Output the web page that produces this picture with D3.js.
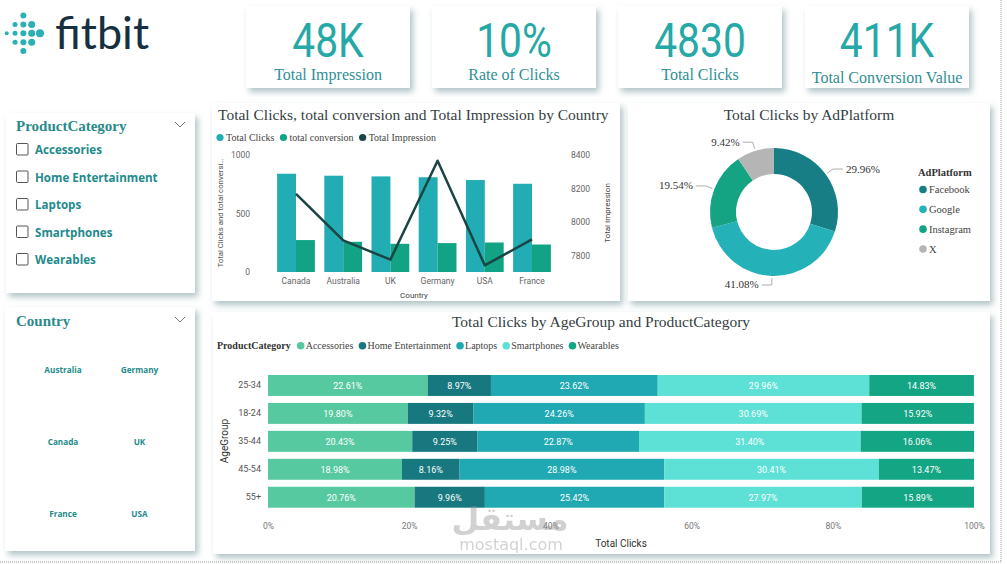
<!DOCTYPE html>
<html>
<head>
<meta charset="utf-8">
<title>fitbit ads dashboard</title>
<script src="https://cdn.jsdelivr.net/npm/d3@7"></script>
<style>
  body { margin: 0; background: #fff; }
</style>
</head>
<body>
<div id="dash"></div>
<script>
// ---- data ----
var kpiValues = ["48K", "10%", "4830", "411K"]
var kpiLabels = ["Total Impression", "Rate of Clicks", "Total Clicks", "Total Conversion Value"]

var productCategories = ["Accessories", "Home Entertainment", "Laptops", "Smartphones", "Wearables"]
var countrySlicer = ["Australia", "Germany", "Canada", "UK", "France", "USA"]

var countries = ["Canada", "Australia", "UK", "Germany", "USA", "France"]
var totalClicks = [840, 823, 817, 810, 786, 754]
var totalConversion = [273, 258, 241, 247, 252, 235]
var totalImpression = [8167, 7889, 7774, 8366, 7740, 7895]
var leftTicks = [0, 500, 1000]
var rightTicks = [7800, 8000, 8200, 8400]

var platforms = ["Facebook", "Google", "Instagram", "X"]
var platformShare = [29.96, 41.08, 19.54, 9.42]

var ageGroups = ["25-34", "18-24", "35-44", "45-54", "55+"]
var accessories = [22.61, 19.80, 20.43, 18.98, 20.76]
var homeEntertainment = [8.97, 9.32, 9.25, 8.16, 9.96]
var laptops = [23.62, 24.26, 22.87, 28.98, 25.42]
var smartphones = [29.96, 30.69, 31.40, 30.41, 27.97]
var wearables = [14.83, 15.92, 16.06, 13.47, 15.89]
var pctTicks = [0, 20, 40, 60, 80, 100]

// ---- look ----
var serif = "'Liberation Serif', 'DejaVu Serif', serif"
var sans = "Roboto, 'Open Sans', sans-serif"
var titleColor = "#34403f"
var tealText = "#238a8c"
var catColors = ["#57c9a0", "#17797f", "#20a8b3", "#5de0d5", "#14a585"]
var platColors = ["#177e86", "#24b1b8", "#14a483", "#b5b5b5"]
var clickColor = "#22adb5", convColor = "#12a384", imprColor = "#1b4444"

var svg = d3.select("#dash").append("svg")
    .attr("width", 1007)
    .attr("height", 564)

var filter = svg.append("defs").append("filter")
    .attr("id", "shadow").attr("x", "-10%").attr("y", "-10%").attr("width", "125%").attr("height", "130%")
filter.append("feDropShadow")
    .attr("dx", 3).attr("dy", 4).attr("stdDeviation", 3)
    .attr("flood-color", "#7f9ca2").attr("flood-opacity", 0.6)

function card(x, y, w, h) {
    svg.append("rect")
        .attr("x", x).attr("y", y).attr("width", w).attr("height", h)
        .attr("fill", "#fff")
        .attr("filter", "url(#shadow)")
}

// dotted page edge
svg.append("path")
    .attr("d", "M1001,0V562H0")
    .attr("fill", "none").attr("stroke", "#999").attr("stroke-width", 1)
    .attr("stroke-dasharray", "1,1")

// ---- logo ----
var logo = svg.append("g")
var dotRows = [1, 3, 5, 3, 1]
dotRows.forEach(function(n, r) {
    for (var k = 0; k < n; k++) {
        var col = 2 - (n - 1) / 2 + k
        logo.append("circle")
            .attr("cx", 6.7 + col * 8.33)
            .attr("cy", 15.5 + r * 8.9)
            .attr("r", 2 + col * 0.5)
            .attr("fill", "#2ab0b5")
    }
})
logo.append("text")
    .attr("x", 55).attr("y", 49)
    .attr("font-family", "Lato, sans-serif").attr("font-size", 45)
    .attr("fill", "#17303f")
    .text("fitbit")

// ---- KPI cards ----
var kpiX = [246, 432, 618, 805]
kpiValues.forEach(function(v, i) {
    card(kpiX[i], 6, 164, 82)
    var cxk = kpiX[i] + 82
    svg.append("text")
        .attr("transform", "translate(" + cxk + ",57) scale(0.85,1)")
        .attr("text-anchor", "middle")
        .attr("font-family", sans).attr("font-size", 48)
        .attr("fill", "#26a9a6")
        .text(v)
    svg.append("text")
        .attr("x", cxk).attr("y", i == 3 ? 83 : 80)
        .attr("text-anchor", "middle")
        .attr("font-family", serif).attr("font-size", 16)
        .attr("fill", "#2f8f93")
        .text(kpiLabels[i])
})

// ---- slicers ----
function chevron(x, y) {
    svg.append("path")
        .attr("d", "M" + (x - 5) + "," + (y - 3) + "L" + x + "," + (y + 2) + "L" + (x + 5) + "," + (y - 3))
        .attr("fill", "none").attr("stroke", "#777").attr("stroke-width", 1)
}

card(6, 113, 189, 180)
svg.append("text")
    .attr("x", 16).attr("y", 131)
    .attr("font-family", serif).attr("font-size", 15).attr("font-weight", "bold")
    .attr("fill", "#2a8a8a")
    .text("ProductCategory")
chevron(180, 125)
var slicerY = d3.scalePoint().domain(productCategories).range([149.5, 259.5])
productCategories.forEach(function(c) {
    svg.append("rect")
        .attr("x", 16.5).attr("y", slicerY(c) - 6).attr("width", 11.5).attr("height", 11.5)
        .attr("rx", 1).attr("fill", "#fff").attr("stroke", "#555").attr("stroke-width", 1)
    svg.append("text")
        .attr("x", 35).attr("y", slicerY(c) + 4.5)
        .attr("font-family", "'Open Sans', sans-serif").attr("font-size", 11.6).attr("font-weight", 700)
        .attr("fill", tealText)
        .text(c)
})

card(5, 307, 190, 244)
svg.append("text")
    .attr("x", 16).attr("y", 326)
    .attr("font-family", serif).attr("font-size", 15).attr("font-weight", "bold")
    .attr("fill", "#2a8a8a")
    .text("Country")
chevron(180, 320)
var tileCol = d3.scalePoint().domain([0, 1]).range([63, 139.5])
var tileRow = d3.scalePoint().domain([0, 1, 2]).range([370, 513.5])
countrySlicer.forEach(function(c, i) {
    svg.append("text")
        .attr("x", tileCol(i % 2)).attr("y", tileRow(Math.floor(i / 2)) + 3)
        .attr("text-anchor", "middle")
        .attr("font-family", "'Open Sans', sans-serif").attr("font-size", 8.2).attr("font-weight", 700)
        .attr("fill", tealText)
        .text(c)
})

// ---- combo chart: clicks / conversion / impression by country ----
card(212, 103, 408, 198)
svg.append("text")
    .attr("x", 218).attr("y", 120)
    .attr("font-family", serif).attr("font-size", 15.5)
    .attr("fill", titleColor)
    .text("Total Clicks, total conversion and Total Impression by Country")

var comboLegend = [["Total Clicks", clickColor], ["total conversion", convColor], ["Total Impression", imprColor]]
var lx = 220
comboLegend.forEach(function(d) {
    svg.append("circle").attr("cx", lx).attr("cy", 137.5).attr("r", 3.6).attr("fill", d[1])
    var t = svg.append("text")
        .attr("x", lx + 6).attr("y", 141)
        .attr("font-family", serif).attr("font-size", 10)
        .attr("fill", "#444")
        .text(d[0])
    lx += 6 + t.node().getComputedTextLength() + 9
})

var cx = d3.scaleBand().domain(countries).range([272.4, 555.6]).paddingInner(0.2).paddingOuter(0.1)
var cSub = d3.scaleBand().domain(["clicks", "conv"]).range([0, cx.bandwidth()])
var yL = d3.scaleLinear().domain([0, 1000]).range([272, 155])
var yR = d3.scaleLinear().domain([7700, 8400]).range([272, 155])

var combo = svg.append("g")
combo.selectAll(".clk").data(countries).join("rect")
    .attr("x", function(d) { return cx(d) + cSub("clicks") })
    .attr("y", function(d, i) { return yL(totalClicks[i]) })
    .attr("width", cSub.bandwidth())
    .attr("height", function(d, i) { return yL(0) - yL(totalClicks[i]) })
    .attr("fill", clickColor)
combo.selectAll(".conv").data(countries).join("rect")
    .attr("x", function(d) { return cx(d) + cSub("conv") })
    .attr("y", function(d, i) { return yL(totalConversion[i]) })
    .attr("width", cSub.bandwidth())
    .attr("height", function(d, i) { return yL(0) - yL(totalConversion[i]) })
    .attr("fill", convColor)
combo.append("path")
    .datum(totalImpression)
    .attr("fill", "none").attr("stroke", imprColor).attr("stroke-width", 2.5)
    .attr("stroke-linejoin", "round")
    .attr("d", d3.line()
        .x(function(d, i) { return cx(countries[i]) + cx.bandwidth() / 2 })
        .y(function(d) { return yR(d) }))

function styleAxis(a, size, color) {
    a.select(".domain").remove()
    a.selectAll("text").attr("font-family", sans).attr("font-size", size).attr("fill", color)
}
combo.append("g").attr("transform", "translate(253,0)")
    .call(d3.axisLeft(yL).tickValues(leftTicks).tickSize(0).tickPadding(3).tickFormat(d3.format("d")))
    .call(styleAxis, 8.5, "#666")
combo.append("g").attr("transform", "translate(568,0)")
    .call(d3.axisRight(yR).tickValues(rightTicks).tickSize(0).tickPadding(3).tickFormat(d3.format("d")))
    .call(styleAxis, 8.5, "#666")
combo.append("g").attr("transform", "translate(0,272)")
    .call(d3.axisBottom(cx).tickSize(0).tickPadding(6))
    .call(styleAxis, 8.5, "#666")
combo.append("text")
    .attr("x", 414).attr("y", 298).attr("text-anchor", "middle")
    .attr("font-family", sans).attr("font-size", 8).attr("fill", "#444")
    .text("Country")
combo.append("text")
    .attr("transform", "translate(223,213) rotate(-90)").attr("text-anchor", "middle")
    .attr("font-family", sans).attr("font-size", 7.8).attr("fill", "#555")
    .text("Total Clicks and total conversi\u2026")
combo.append("text")
    .attr("transform", "translate(610,213) rotate(-90)").attr("text-anchor", "middle")
    .attr("font-family", sans).attr("font-size", 8).attr("fill", "#444")
    .text("Total Impression")

// ---- donut: clicks by ad platform ----
card(628, 103, 362, 198)
svg.append("text")
    .attr("x", 809).attr("y", 120).attr("text-anchor", "middle")
    .attr("font-family", serif).attr("font-size", 15.5)
    .attr("fill", titleColor)
    .text("Total Clicks by AdPlatform")

var donut = svg.append("g").attr("transform", "translate(774,212)")
var pie = d3.pie().sort(null).value(function(d) { return d })
var arcs = pie(platformShare)
var arc = d3.arc().innerRadius(38).outerRadius(64)
donut.selectAll("path").data(arcs).join("path")
    .attr("d", arc)
    .attr("fill", function(d, i) { return platColors[i] })

arcs.forEach(function(a) {
    var m = (a.startAngle + a.endAngle) / 2
    var p1 = [Math.sin(m) * 66, -Math.cos(m) * 66]
    var p2 = [Math.sin(m) * 73, -Math.cos(m) * 73]
    var right = Math.sin(m) > 0
    var p3 = [p2[0] + (right ? 10 : -10), p2[1]]
    donut.append("polyline")
        .attr("points", [p1, p2, p3].join(" "))
        .attr("fill", "none").attr("stroke", "#999").attr("stroke-width", 0.8)
    donut.append("text")
        .attr("x", p3[0] + (right ? 3 : -3)).attr("y", p3[1] + 3.5)
        .attr("text-anchor", right ? "start" : "end")
        .attr("font-family", serif).attr("font-size", 11)
        .attr("fill", "#333")
        .text(d3.format(".2f")(a.data) + "%")
})

svg.append("text")
    .attr("x", 918).attr("y", 176)
    .attr("font-family", serif).attr("font-size", 10.5).attr("font-weight", "bold")
    .attr("fill", "#333")
    .text("AdPlatform")
var legY = d3.scalePoint().domain(platforms).range([189.5, 249])
platforms.forEach(function(p, i) {
    svg.append("circle").attr("cx", 923).attr("cy", legY(p)).attr("r", 3.8).attr("fill", platColors[i])
    svg.append("text")
        .attr("x", 929).attr("y", legY(p) + 3.5)
        .attr("font-family", serif).attr("font-size", 10.5)
        .attr("fill", "#444")
        .text(p)
})

// ---- stacked 100% bars: clicks by age group and category ----
card(213, 312, 777, 242)
svg.append("text")
    .attr("x", 601).attr("y", 327).attr("text-anchor", "middle")
    .attr("font-family", serif).attr("font-size", 15.5)
    .attr("fill", titleColor)
    .text("Total Clicks by AgeGroup and ProductCategory")

var lg = svg.append("text")
    .attr("x", 217).attr("y", 349)
    .attr("font-family", serif).attr("font-size", 10).attr("font-weight", "bold")
    .attr("fill", "#333")
    .text("ProductCategory")
var sx = 217 + lg.node().getComputedTextLength() + 10
productCategories.forEach(function(c, i) {
    svg.append("circle").attr("cx", sx).attr("cy", 345.7).attr("r", 3.8).attr("fill", catColors[i])
    var t = svg.append("text")
        .attr("x", sx + 5).attr("y", 349)
        .attr("font-family", serif).attr("font-size", 10)
        .attr("fill", "#444")
        .text(c)
    sx += 5 + t.node().getComputedTextLength() + 9
})

var seriesValues = [accessories, homeEntertainment, laptops, smartphones, wearables]
var rows = ageGroups.map(function(a, i) {
    var r = { age: a }
    productCategories.forEach(function(c, k) { r[c] = seriesValues[k][i] })
    return r
})
var stacked = d3.stack().keys(productCategories)(rows)

var xs = d3.scaleLinear().domain([0, 100]).range([268, 974])
var ys = d3.scaleBand().domain(ageGroups).range([371.5, 511.2]).paddingInner(0.25).paddingOuter(0.125)

var bars = svg.append("g")
stacked.forEach(function(layer, k) {
    var lgp = bars.append("g")
    lgp.selectAll("rect").data(layer).join("rect")
        .attr("x", function(d) { return xs(d[0]) })
        .attr("y", function(d) { return ys(d.data.age) })
        .attr("width", function(d) { return xs(d[1]) - xs(d[0]) })
        .attr("height", ys.bandwidth())
        .attr("fill", catColors[k])
    lgp.selectAll("text").data(layer).join("text")
        .attr("x", function(d) { return (xs(d[0]) + xs(d[1])) / 2 })
        .attr("y", function(d) { return ys(d.data.age) + ys.bandwidth() / 2 + 3.3 })
        .attr("text-anchor", "middle")
        .attr("font-family", sans).attr("font-size", 9)
        .attr("fill", "#fff")
        .text(function(d) { return d3.format(".2f")(d[1] - d[0]) + "%" })
})

bars.append("g").attr("transform", "translate(263,0)")
    .call(d3.axisLeft(ys).tickSize(0).tickPadding(2))
    .call(styleAxis, 9, "#555")
bars.append("g").attr("transform", "translate(0,518)")
    .call(d3.axisBottom(xs).tickValues(pctTicks).tickSize(0).tickPadding(5).tickFormat(function(d) { return d + "%" }))
    .call(styleAxis, 8.5, "#777")
bars.append("text")
    .attr("x", 621).attr("y", 547).attr("text-anchor", "middle")
    .attr("font-family", sans).attr("font-size", 10).attr("fill", "#333")
    .text("Total Clicks")
bars.append("text")
    .attr("transform", "translate(228,441) rotate(-90)").attr("text-anchor", "middle")
    .attr("font-family", sans).attr("font-size", 10).attr("fill", "#333")
    .text("AgeGroup")

// ---- watermark ----
var wm = svg.append("g").attr("fill", "#8f8f8f").attr("opacity", 0.4)
wm.append("text")
    .attr("x", 510).attr("y", 530).attr("text-anchor", "middle")
    .attr("font-family", "'DejaVu Sans', sans-serif").attr("font-size", 32).attr("font-weight", "bold")
    .text("مستقل")
wm.append("text")
    .attr("x", 511).attr("y", 550).attr("text-anchor", "middle")
    .attr("font-family", "'DejaVu Sans', sans-serif").attr("font-size", 16)
    .text("mostaql.com")
</script>
</body>
</html>
